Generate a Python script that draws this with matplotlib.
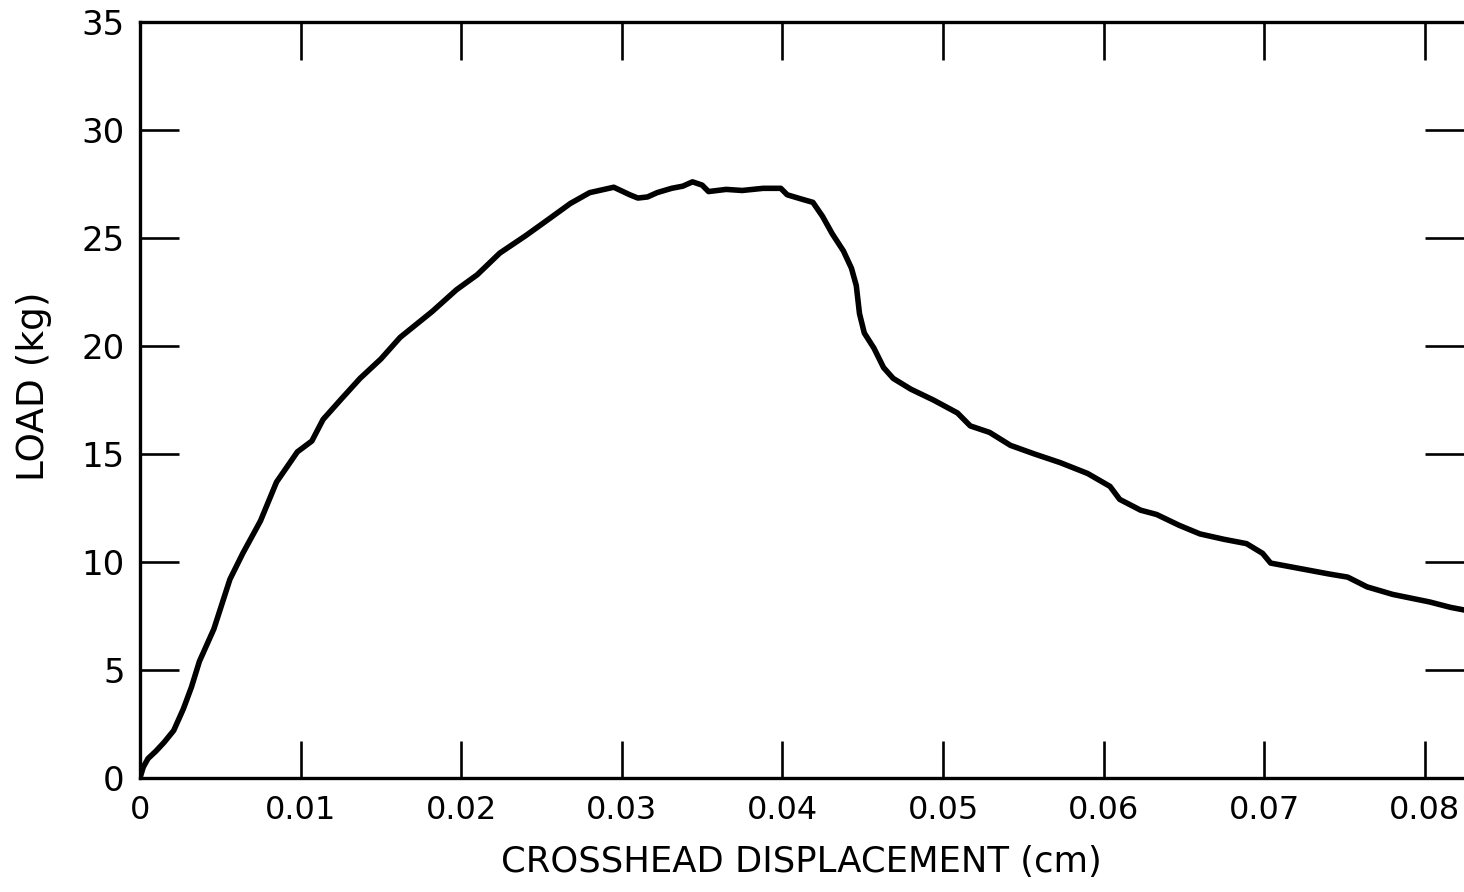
import matplotlib
matplotlib.use("Agg")
import matplotlib.pyplot as plt

# Data
displacement_cm = [0, 0.0002, 0.0005, 0.0010, 0.0015, 0.0021, 0.0027, 0.0032, 0.0037, 0.0046,
                   0.0056, 0.0064, 0.0075, 0.0085, 0.0098, 0.0107, 0.0114, 0.0126, 0.0137, 0.0150,
                   0.0162, 0.0182, 0.0197, 0.0210, 0.0224, 0.0240, 0.0255, 0.0268, 0.0280, 0.0295,
                   0.0305, 0.0310, 0.0316, 0.0322, 0.0331, 0.0338, 0.0344, 0.0350, 0.0354, 0.0365,
                   0.0375, 0.0388, 0.0399, 0.0403, 0.0412, 0.0419, 0.0425, 0.0431, 0.0438, 0.0443,
                   0.0446, 0.0448, 0.0451, 0.0457, 0.0463, 0.0469, 0.0480, 0.0494, 0.0509, 0.0517,
                   0.0529, 0.0542, 0.0557, 0.0573, 0.0590, 0.0604, 0.0610, 0.0623, 0.0633, 0.0647,
                   0.0660, 0.0675, 0.0689, 0.0699, 0.0704, 0.0722, 0.0740, 0.0752, 0.0764, 0.0780,
                   0.0803, 0.0816, 0.0830]
load_kg = [0, 0.5, 0.9, 1.25, 1.65, 2.2, 3.2, 4.2, 5.4, 6.9,
           9.2, 10.4, 11.9, 13.7, 15.1, 15.6, 16.6, 17.6, 18.5, 19.4,
           20.4, 21.6, 22.6, 23.3, 24.3, 25.1, 25.9, 26.6, 27.1, 27.35,
           27.0, 26.85, 26.9, 27.1, 27.3, 27.4, 27.6, 27.45, 27.15, 27.25,
           27.2, 27.3, 27.3, 27.0, 26.8, 26.65, 26.0, 25.2, 24.4, 23.6,
           22.8, 21.5, 20.6, 19.9, 19.0, 18.5, 18.0, 17.5, 16.9, 16.3,
           16.0, 15.4, 15.0, 14.6, 14.1, 13.5, 12.9, 12.4, 12.2, 11.7,
           11.3, 11.05, 10.85, 10.4, 9.95, 9.7, 9.45, 9.3, 8.85, 8.5,
           8.15, 7.9, 7.7]

x_ticks = [0, 0.01, 0.02, 0.03, 0.04, 0.05, 0.06, 0.07, 0.08]
x_tick_labels = ["0", "0.01", "0.02", "0.03", "0.04", "0.05", "0.06", "0.07", "0.08"]
y_ticks = [0, 5, 10, 15, 20, 25, 30, 35]
y_tick_labels = ["0", "5", "10", "15", "20", "25", "30", "35"]
x_label = "CROSSHEAD DISPLACEMENT (cm)"
y_label = "LOAD (kg)"

plt.rcParams['font.family'] = ['DejaVu Sans']

W, H = 1464, 892
fig = plt.figure(figsize=(W / 100, H / 100), dpi=100)
ax = fig.add_axes([140 / W, 1 - 778 / H, (1464 - 140) / W, (778 - 22) / H])

ax.plot(displacement_cm, load_kg, color='black', linewidth=4.0, solid_capstyle='round',
        solid_joinstyle='round')

ax.set_xlim(0, (1464 - 140) / 16060)
ax.set_ylim(0, 35)
ax.set_xticks(x_ticks)
ax.set_xticklabels(x_tick_labels)
ax.set_yticks(y_ticks)
ax.set_yticklabels(y_tick_labels)

for side in ['left', 'bottom', 'top']:
    ax.spines[side].set_linewidth(2.4)
    ax.spines[side].set_color('black')
ax.spines['right'].set_visible(False)

ax.tick_params(axis='x', which='major', direction='in', length=27, width=1.9,
               top=True, bottom=True, labelsize=23, pad=12, colors='black')
ax.tick_params(axis='y', which='major', direction='in', length=28, width=1.9,
               left=True, right=True, labelsize=24.5, pad=11, colors='black')

fig.text(801 / W, 1 - 862 / H, x_label, ha='center', va='center', fontsize=25.5, color='black')
fig.text(34 / W, 1 - 386 / H, y_label, ha='center', va='center', rotation=90, fontsize=27, color='black')

fig.savefig("out.png", dpi=100, facecolor='white')
